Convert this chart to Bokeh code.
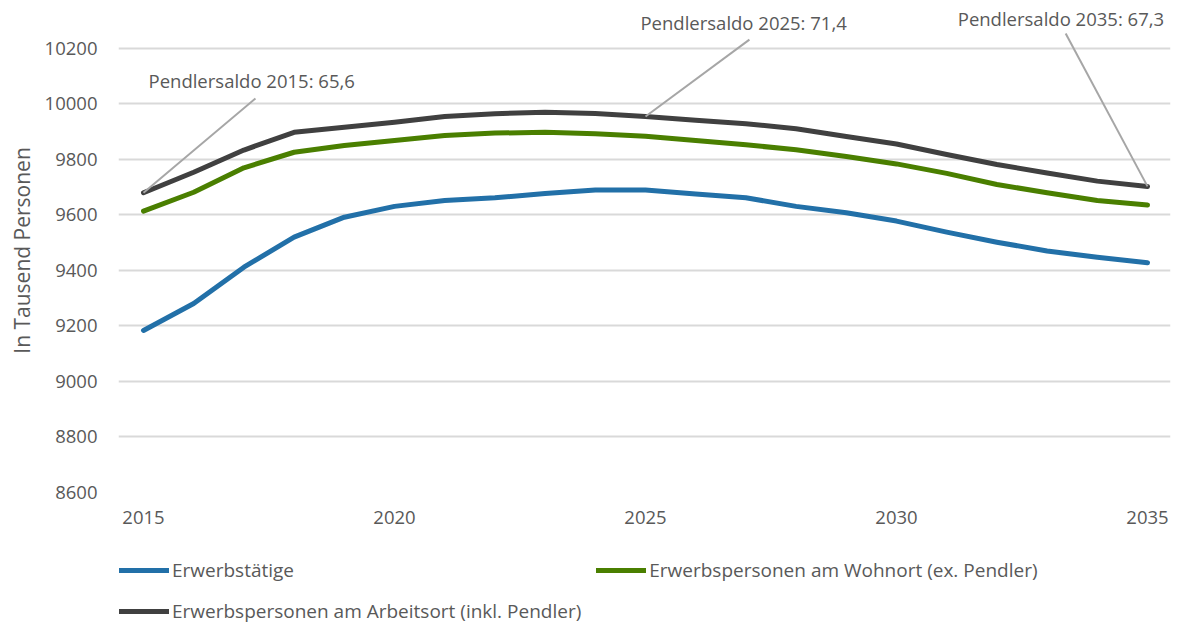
from bokeh.plotting import figure
from bokeh.layouts import column
from bokeh.models import ColumnDataSource, FixedTicker, Legend, LegendItem, Range1d
from bokeh.core.properties import value
from bokeh.embed import file_html
from bokeh.resources import INLINE

years = list(range(2015, 2036))
erwerbstaetige = [9184, 9281, 9412, 9520, 9592, 9631, 9652, 9662, 9677, 9690, 9690,
                  9676, 9662, 9631, 9608, 9578, 9538, 9502, 9470, 9448, 9428]
wohnort = [9614, 9682, 9770, 9826, 9850, 9868, 9886, 9895, 9898, 9893, 9884,
           9868, 9853, 9835, 9811, 9784, 9750, 9710, 9680, 9652, 9636]
arbeitsort = [9680, 9754, 9834, 9898, 9916, 9934, 9955, 9965, 9970, 9966, 9955,
              9941, 9929, 9911, 9883, 9856, 9818, 9782, 9751, 9722, 9703]

series_names = ["Erwerbstätige",
                "Erwerbspersonen am Wohnort (ex. Pendler)",
                "Erwerbspersonen am Arbeitsort (inkl. Pendler)"]

y_ticks = [8600, 8800, 9000, 9200, 9400, 9600, 9800, 10000, 10200]
x_ticks = [2015, 2020, 2025, 2030, 2035]

saldo_years = [2015, 2025, 2035]
saldo_labels = ["Pendlersaldo 2015: 65,6", "Pendlersaldo 2025: 71,4", "Pendlersaldo 2035: 67,3"]

# label placement (layout, not data)
label_x = [2015.1, 2024.9, 2031.22]
label_y = [10085, 10294, 10308]
leader_x = [2017.23, 2027.07, 2033.37]
leader_y = [10020, 10232, 10254]

FONT = "Open Sans"
TXT = "#595959"
FS = "18.5px"
colors = ["#2270a8", "#4a7f00", "#404040"]

p = figure(width=1183, height=545, output_backend="svg", toolbar_location=None,
           x_range=Range1d(2014.502, 2035.458), y_range=Range1d(8600, 10344),
           min_border_left=118, min_border_right=13, min_border_top=8, min_border_bottom=53)
p.outline_line_color = None
p.background_fill_color = "white"

src = ColumnDataSource(dict(x=years, a=erwerbstaetige, b=wohnort, c=arbeitsort))
for col, c in zip(["a", "b", "c"], colors):
    p.line("x", col, source=src, line_color=c, line_width=5, line_cap="round", line_join="round")

# leader lines from the Arbeitsort point to the labels
idx = [years.index(yv) for yv in saldo_years]
lsrc = ColumnDataSource(dict(x0=saldo_years, y0=[arbeitsort[i] for i in idx],
                             x1=leader_x, y1=leader_y,
                             tx=label_x, ty=label_y, t=saldo_labels))
p.segment("x0", "y0", "x1", "y1", source=lsrc, line_color="#a6a6a6", line_width=2)
p.text("tx", "ty", text="t", source=lsrc, text_font=value(FONT), text_font_size=FS,
       text_color=TXT, text_baseline="middle", text_align="left")

# axes
p.xaxis.ticker = FixedTicker(ticks=x_ticks)
p.yaxis.ticker = FixedTicker(ticks=y_ticks)
for ax in (p.xaxis[0], p.yaxis[0]):
    ax.axis_line_color = None
    ax.major_tick_line_color = None
    ax.minor_tick_line_color = None
    ax.major_tick_out = 0
    ax.major_tick_in = 0
    ax.major_label_text_font = FONT
    ax.major_label_text_font_size = FS
    ax.major_label_text_color = TXT
p.xaxis.major_label_standoff = 18
p.yaxis.major_label_standoff = 21
p.yaxis.axis_label = "In Tausend Personen"
p.yaxis.axis_label_text_font = FONT
p.yaxis.axis_label_text_font_size = "21px"
p.yaxis.axis_label_text_font_style = "normal"
p.yaxis.axis_label_text_color = TXT
p.yaxis.axis_label_standoff = 6

p.xgrid.grid_line_color = None
p.ygrid.grid_line_color = "#d9d9d9"
p.ygrid.grid_line_width = 2

# legend strip: same series, drawn outside its (empty) view so only the legend shows
lg = figure(width=1183, height=78, output_backend="svg", toolbar_location=None,
            x_range=Range1d(0, 1), y_range=Range1d(0, 1),
            min_border_left=0, min_border_right=0, min_border_top=0, min_border_bottom=0)
lg.axis.visible = False
lg.grid.visible = False
lg.outline_line_color = None
rs = [lg.line("x", col, source=src, line_color=c, line_width=5, line_cap="round")
      for col, c in zip(["a", "b", "c"], colors)]

legend = Legend(items=[LegendItem(label=n, renderers=[r]) for n, r in zip(series_names, rs)],
                location=(1, -1), orientation="horizontal", ncols=2,
                glyph_width=50, glyph_height=26, label_height=26, label_width=409,
                label_standoff=3, spacing=15, padding=0, margin=0,
                label_text_font=FONT, label_text_font_size="19px", label_text_color=TXT,
                border_line_color=None, background_fill_alpha=0)
lg.add_layout(legend, "center")

layout = column(p, lg, spacing=0)
open("out.html", "w").write(file_html(layout, INLINE))
